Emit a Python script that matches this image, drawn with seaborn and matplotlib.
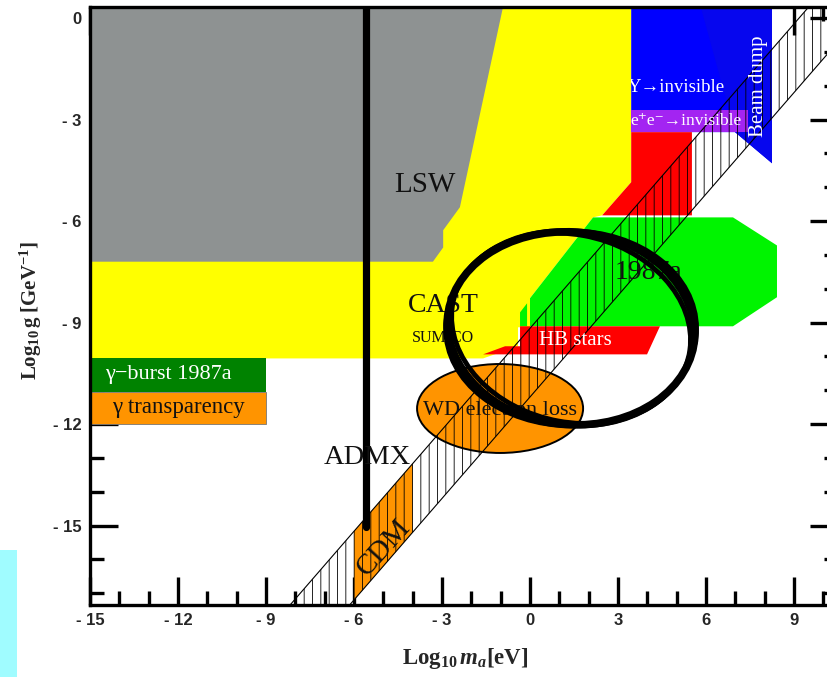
import numpy as np
import pandas as pd
import matplotlib
matplotlib.use("Agg")
import matplotlib.pyplot as plt
from matplotlib.patches import Polygon, Ellipse, Rectangle
import seaborn as sns

# ---------------- data (log10 m_a [eV], log10 g [GeV^-1]) ----------------
x_limits = [-15, 10.5]
y_limits = [-17.35, 0.33]
x_major = [-15, -12, -9, -6, -3, 0, 3, 6, 9]
x_tick_labels = ["- 15", "- 12", "- 9", "- 6", "- 3", "0", "3", "6", "9"]
y_major = [-15, -12, -9, -6, -3, 0]
y_tick_labels = ["- 15", "- 12", "- 9", "- 6", "- 3", "0"]

lsw_m = [-15, -0.92, -2.39, -2.96, -2.96, -3.31, -15]
lsw_g = [0.33, 0.33, -5.59, -6.27, -6.78, -7.2, -7.2]

cast_m = [-15, 3.45, 3.45, 2.46, 2.15, 0.0, 0.0, -0.41, -0.41, -1.6, -15]
cast_g = [0.33, 0.33, -4.85, -5.83, -5.89, -8.28, -9.14, -9.14, -9.7, -10.06, -10.06]

upsilon_m = [3.45, 8.25, 8.25, 6.99, 3.45]
upsilon_g = [0.33, 0.33, -4.29, -3.37, -3.37]
beam_m = [5.82, 8.25, 8.25, 6.99]
beam_g = [0.33, 0.33, -4.29, -3.37]

ee_m = [3.45, 7.43, 7.43, 3.45]
ee_g = [-2.72, -2.72, -3.37, -3.37]

red_top_m = [3.45, 5.52, 5.52, 2.46, 3.45]
red_top_g = [-3.37, -3.37, -5.83, -5.83, -4.85]

sn1987_m = [2.15, 6.92, 8.42, 8.42, 6.92, 0.0, 0.0]
sn1987_g = [-5.89, -5.89, -6.72, -8.25, -9.11, -9.11, -8.28]
sn_sliver_m = [-0.34, -0.1, -0.1, -0.34]
sn_sliver_g = [-8.7, -8.43, -9.11, -9.11]

hb_m = [-1.6, -0.85, -0.34, -0.34, 4.43, 3.99]
hb_g = [-9.94, -9.7, -9.7, -9.11, -9.11, -9.94]

burst_m = [-15, -9, -9, -15]
burst_g = [-10.06, -10.06, -11.04, -11.04]
transp_m = [-15, -9, -9, -15]
transp_g = [-11.04, -11.04, -12.0, -12.0]

wd_center = (-1.02, -11.54)
wd_size = (5.66, 2.63)

band_m = [-9.0, 10.5]
band_upper = [-18.17, 1.33]
band_lower = [-20.2, -0.7]
cdm_m = [-6.0, -4.0]

admx_m = [-5.58, -5.58]
admx_g = [-15.05, 0.33]

ring_center = (1.40, -9.17)
ring_size = (8.45, 5.7)
# several overlapping strokes give the scribbled look: (d_width, d_height, angle, lw)
ring_strokes = [(0.0, 0.0, -3, 5.5), (-0.25, -0.15, -9, 3.5), (0.15, 0.1, 0, 2.5),
                (-0.1, 0.05, -6, 3.0)]

# ---------------- style ----------------
sns.set_style("ticks")
plt.rcParams["font.family"] = ["Liberation Serif", "DejaVu Serif"]
plt.rcParams["mathtext.fontset"] = "custom"
plt.rcParams["mathtext.rm"] = "Liberation Serif:bold"
plt.rcParams["mathtext.it"] = "Liberation Serif:italic:bold"
plt.rcParams["mathtext.bf"] = "Liberation Serif:bold"
plt.rcParams["hatch.linewidth"] = 0.6

fig = plt.figure(figsize=(8.27, 6.77), dpi=100)
fig.patch.set_facecolor("white")
fig.patches.append(Rectangle((0, 0), 17 / 827, 127 / 677, transform=fig.transFigure,
                             facecolor="#A0FCFF", edgecolor="none"))
ax = fig.add_axes([90 / 827, 1 - 605 / 677, 748 / 827, 598 / 677])
ax.set_xlim(*x_limits)
ax.set_ylim(*y_limits)


def poly(m, g, color, z=1):
    p = Polygon(np.column_stack([m, g]), closed=True, facecolor=color,
                edgecolor="none", zorder=z)
    ax.add_patch(p)
    return p


poly(cast_m, cast_g, "#FFFF00", 1)
poly(lsw_m, lsw_g, "#8E9292", 1.1)
poly(upsilon_m, upsilon_g, "#0000FF", 1.2)
poly(beam_m, beam_g, "#0606EE", 1.25)
poly(ee_m, ee_g, "#A324F2", 1.3)
poly(red_top_m, red_top_g, "#FF0000", 1.3)
poly(sn1987_m, sn1987_g, "#00F400", 1.3)
poly(sn_sliver_m, sn_sliver_g, "#00F400", 1.3)
poly(hb_m, hb_g, "#FF0000", 1.3)
poly(burst_m, burst_g, "#008200", 1.3)
tr = poly(transp_m, transp_g, "#FF9400", 1.3)
tr.set_edgecolor("#777777")
tr.set_linewidth(0.6)

ax.add_patch(Ellipse(wd_center, wd_size[0], wd_size[1], facecolor="#FF9400",
                     edgecolor="black", linewidth=1.4, zorder=1.4))

# CDM orange piece of the band
cdm_x = np.array(cdm_m)
sl = (band_upper[1] - band_upper[0]) / (band_m[1] - band_m[0])
ax.fill_between(cdm_x, band_lower[0] + sl * (cdm_x - band_m[0]),
                band_upper[0] + sl * (cdm_x - band_m[0]),
                facecolor="#FF9400", edgecolor="none", zorder=1.4)

# hatched axion band
ax.fill_between(band_m, band_lower, band_upper, facecolor="none",
                edgecolor="black", hatch="||", linewidth=0, zorder=1.6)
band_df = pd.DataFrame({"m": band_m * 2, "g": band_upper + band_lower,
                        "edge": ["up", "up", "lo", "lo"]})
sns.lineplot(data=band_df, x="m", y="g", units="edge", estimator=None,
             color="black", linewidth=0.8, ax=ax, zorder=1.7, sort=False)

# ADMX line
sns.lineplot(x=admx_m, y=admx_g, color="black", linewidth=5.2, ax=ax,
             zorder=2, estimator=None, sort=False)

# ---------------- labels inside ----------------
ink = "#111111"
ax.text(-3.58, -4.94, "LSW", fontsize=21, ha="center", va="center", color=ink, zorder=3)
ax.text(-2.96, -8.49, "CAST", fontsize=20, ha="center", va="center", color=ink, zorder=3)
ax.text(-2.96, -9.47, "SUMICO", fontsize=11.5, ha="center", va="center", color=ink, zorder=3)
ax.text(1.54, -9.53, "HB stars", fontsize=15, ha="center", va="center", color="white", zorder=3)
ax.text(2.90, -7.51, "1987a", fontsize=20, ha="left", va="center", color=ink, zorder=3)
ax.text(-1.02, -11.6, "WD electron loss", fontsize=16, ha="center", va="center", color=ink, zorder=3)
ax.text(-5.56, -12.99, "ADMX", fontsize=20.5, ha="center", va="center", color=ink, zorder=3)
ax.text(-5.0, -15.65, "CDM", fontsize=21, ha="center", va="center", rotation=48,
        rotation_mode="anchor", color=ink, zorder=3)
ax.text(-12.34, -10.53, "\u03b3\u2212burst 1987a", fontsize=16, ha="center", va="center",
        color="white", zorder=3)
ax.text(-12.0, -11.51, "\u03b3 transparency", fontsize=16.5, ha="center", va="center",
        color=ink, zorder=3)
ax.text(6.65, -2.04, "\u03a5\u2192invisible", fontsize=13.5, ha="right", va="center",
        color="white", zorder=3)
ax.text(7.2, -3.05, "e\u207ae\u207b\u2192invisible", fontsize=12.5, ha="right",
        va="center", color="white", zorder=3)
ax.text(7.78, -2.01, "Beam dump", fontsize=15, ha="center", va="center", rotation=90,
        color="white", zorder=3)
# the white labels are cut at the left edge of the blue box (CAST region shows there)
ax.add_patch(Rectangle((upsilon_m[0] - 0.6, ee_g[2]), 0.6, upsilon_g[0] - ee_g[2] - 1.2,
                       facecolor="#FFFF00", edgecolor="none", zorder=3.5))

# hand-drawn ring
for dw, dh, ang, lw in ring_strokes:
    ax.add_patch(Ellipse(ring_center, ring_size[0] + dw, ring_size[1] + dh, angle=ang,
                         facecolor="none", edgecolor="black", linewidth=lw, zorder=4))

# ---------------- axes ----------------
for s in ax.spines.values():
    s.set_linewidth(2.4)
    s.set_color("black")
    s.set_zorder(5)
ax.set_xticks(x_major)
ax.set_xticklabels(x_tick_labels)
ax.set_yticks(y_major)
ax.set_yticklabels(y_tick_labels)
ax.set_xticks(np.arange(-15, 11, 1), minor=True)
ax.set_yticks(np.arange(-17, 1, 1), minor=True)
ax.tick_params(which="both", direction="in", top=True, right=True, width=2.4, color="black")
ax.tick_params(which="major", length=20, pad=6)
ax.tick_params(which="minor", length=10)
for lab in ax.get_xticklabels() + ax.get_yticklabels():
    lab.set_fontfamily("Liberation Sans")
    lab.set_fontweight("bold")
    lab.set_fontsize(12)

ax.set_xlabel(r"$\mathrm{Log_{10}}\,m_a\mathrm{[eV]}$", fontsize=16.5)
ax.xaxis.set_label_coords(0.501, -0.068)
ax.set_ylabel(r"$\mathrm{Log_{10}\,g\;[GeV^{-1}]}$", fontsize=15)
ax.yaxis.set_label_coords(-0.062, 0.493)

fig.savefig("out.png", dpi=100)
